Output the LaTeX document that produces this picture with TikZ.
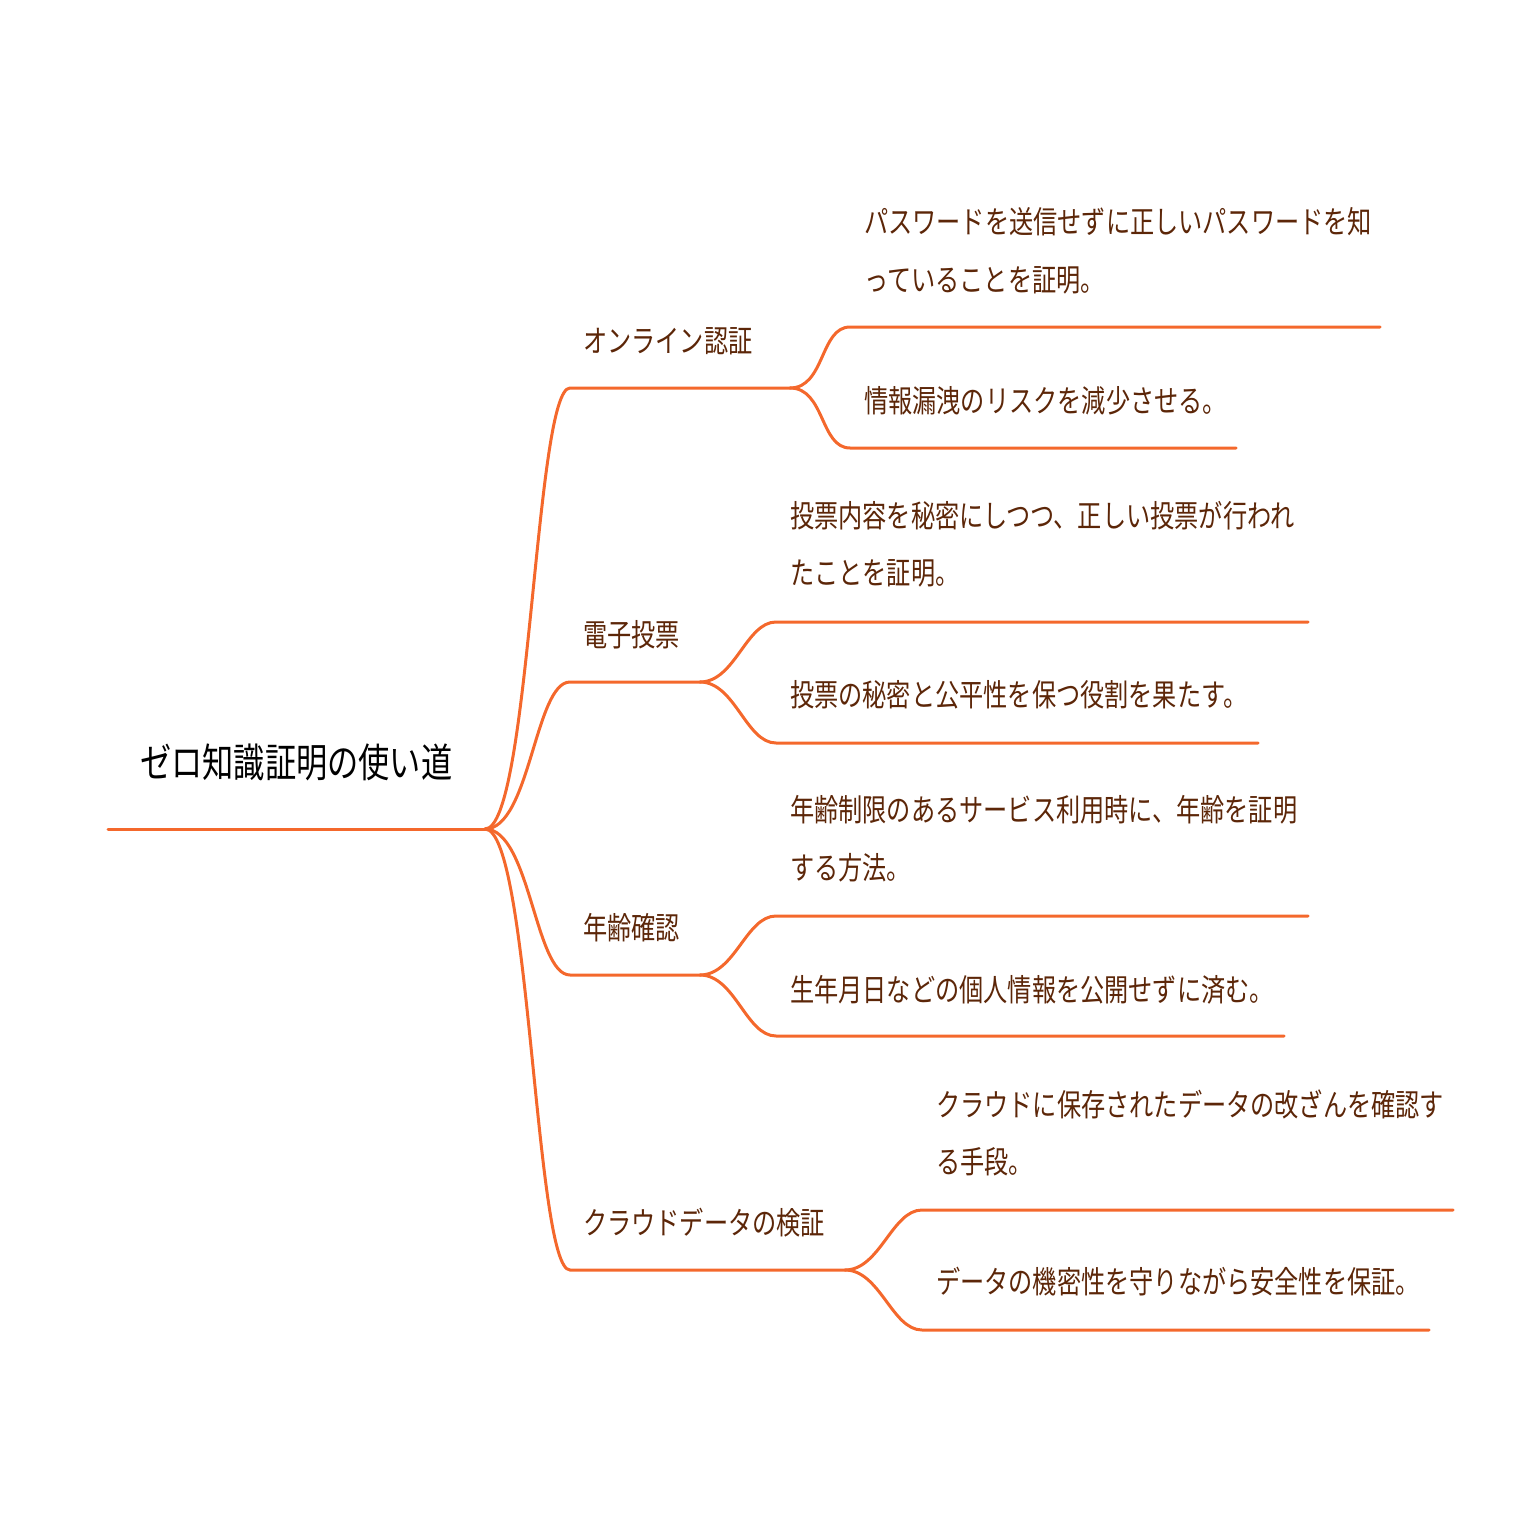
\documentclass[tikz,border=0pt]{standalone}
\usepackage{fontspec}
\newfontfamily\jp{Noto Sans CJK JP}
\newcommand{\sq}[1]{\scalebox{0.78}[1]{#1}}
\definecolor{ln}{HTML}{F4682C}
\definecolor{tx}{HTML}{5C2608}
\begin{document}
\begin{tikzpicture}[x=1pt,y=-1pt,
  br/.style={draw=ln,line width=3pt,line cap=round},
  tt/.style={anchor=west,inner sep=0pt,text=tx,font=\jp\fontsize{31}{36}\selectfont},
  rt/.style={anchor=west,inner sep=0pt,text=black,font=\jp\fontsize{40}{46}\selectfont}]
\useasboundingbox (0,0) rectangle (1538,1538);
\coordinate (r0) at (108,829); \coordinate (r1) at (485,829);
\draw[br] (r0)--(r1);
\node[rt] (root) at (140,762) {\sq{ゼロ知識証明の使い道}};
% level 1
\foreach \n/\y/\e/\t in {a/388/790/オンライン認証, b/682/700/電子投票, c/975/700/年齢確認, d/1270/845/クラウドデータの検証}{
  \coordinate (\n s) at (570,\y); \coordinate (\n e) at (\e,\y);
  \draw[br] (r1) .. controls (530,829) and (535,\y) .. (\n s) -- (\n e);
  \node[tt] (\n t) at (583,\y-47) {\sq{\t}};
}
% level 2
\newcommand{\leaf}[7]{%
  \coordinate (#1a) at (#3,#4); \coordinate (#1b) at (#5,#4);
  \draw[br] (#2) .. controls ([xshift=35]#2) and ([xshift=-30]#1a) .. (#1a) -- (#1b);
  \node[tt] (#1t) at (#3+14,#6) {\sq{#7}};}
\leaf{a1}{ae}{850}{327}{1380}{222}{パスワードを送信せずに正しいパスワードを知}
\node[tt] (a1u) at (864,280) {\sq{っていることを証明。}};
\leaf{a2}{ae}{850}{448}{1236}{401}{情報漏洩のリスクを減少させる。}
\leaf{b1}{be}{776}{622}{1308}{516}{投票内容を秘密にしつつ、正しい投票が行われ}
\node[tt] (b1u) at (790,573) {\sq{たことを証明。}};
\leaf{b2}{be}{776}{743}{1258}{695}{投票の秘密と公平性を保つ役割を果たす。}
\leaf{c1}{ce}{776}{916}{1308}{810}{年齢制限のあるサービス利用時に、年齢を証明}
\node[tt] (c1u) at (790,868) {\sq{する方法。}};
\leaf{c2}{ce}{776}{1036}{1284}{990}{生年月日などの個人情報を公開せずに済む。}
\leaf{d1}{de}{922}{1210}{1453}{1104}{クラウドに保存されたデータの改ざんを確認す}
\node[tt] (d1u) at (936,1162) {\sq{る手段。}};
\leaf{d2}{de}{922}{1330}{1429}{1282}{データの機密性を守りながら安全性を保証。}
\end{tikzpicture}
\end{document}
